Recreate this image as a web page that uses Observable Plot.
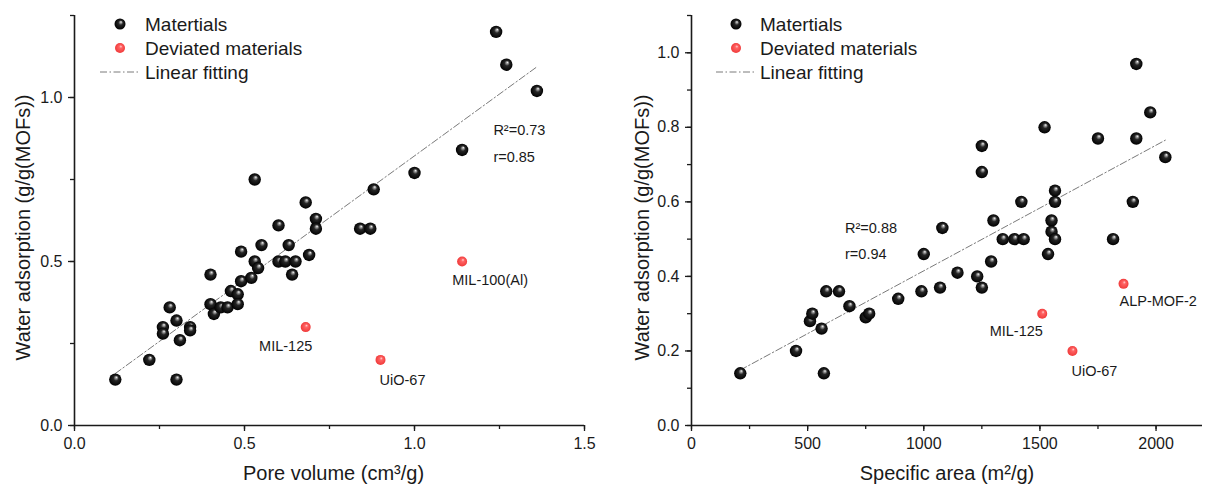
<!DOCTYPE html>
<html>
<head>
<meta charset="utf-8">
<script src="https://cdn.jsdelivr.net/npm/d3@7"></script>
<script src="https://cdn.jsdelivr.net/npm/@observablehq/plot@0.6"></script>
<style>
  html, body { margin: 0; padding: 0; background: #fff; }
  #wrap { position: relative; width: 1207px; height: 492px; font-family: "Liberation Sans", Arial, sans-serif; }
  .panel { position: absolute; top: 0; }
  .legend { position: absolute; top: 0; left: 0; pointer-events: none; }
</style>
</head>
<body>
<!-- shaded sphere fills shared by both panels and the legends -->
<svg width="0" height="0" style="position:absolute">
  <defs>
    <radialGradient id="ballBlack" cx="50%" cy="50%" r="50%" fx="60%" fy="30%">
      <stop offset="0%" stop-color="#ffffff"/>
      <stop offset="14%" stop-color="#a8a8a8"/>
      <stop offset="42%" stop-color="#262626"/>
      <stop offset="100%" stop-color="#000000"/>
    </radialGradient>
    <radialGradient id="ballRed" cx="50%" cy="50%" r="50%" fx="60%" fy="32%">
      <stop offset="0%" stop-color="#ffd6d6"/>
      <stop offset="30%" stop-color="#ff6464"/>
      <stop offset="100%" stop-color="#f03a3a"/>
    </radialGradient>
  </defs>
</svg>
<div id="wrap"></div>
<script>
// ---- Pore volume panel ----
const poreVolume = [0.12, 0.22, 0.30, 0.26, 0.26, 0.28, 0.30, 0.31, 0.34, 0.34,
  0.40, 0.40, 0.41, 0.43, 0.45, 0.46, 0.48, 0.48, 0.49, 0.49,
  0.52, 0.53, 0.54, 0.55, 0.60, 0.60, 0.62, 0.63, 0.65, 0.64,
  0.68, 0.69, 0.71, 0.71, 0.84, 0.87, 0.53, 0.88, 1.00, 1.14,
  1.24, 1.27, 1.36];
const poreUptake = [0.14, 0.20, 0.14, 0.30, 0.28, 0.36, 0.32, 0.26, 0.30, 0.29,
  0.46, 0.37, 0.34, 0.36, 0.36, 0.41, 0.40, 0.37, 0.44, 0.53,
  0.45, 0.50, 0.48, 0.55, 0.61, 0.50, 0.50, 0.55, 0.50, 0.46,
  0.68, 0.52, 0.63, 0.60, 0.60, 0.60, 0.75, 0.72, 0.77, 0.84,
  1.20, 1.10, 1.02];
const poreDevNames = ["MIL-125", "UiO-67", "MIL-100(Al)"];
const poreDevVolume = [0.68, 0.90, 1.14];
const poreDevUptake = [0.30, 0.20, 0.50];
const poreFit = {slope: 0.754, intercept: 0.068, r2: "0.73", r: "0.85"};
const poreXTicks = [0, 0.5, 1.0, 1.5];
const poreXMinor = [0, 0.25, 0.5, 0.75, 1.0, 1.25, 1.5];
const poreYTicks = [0, 0.5, 1.0];
const poreYMinor = [0, 0.25, 0.5, 0.75, 1.0, 1.25];

// ---- Specific area panel ----
const areaValues = [210, 450, 570, 560, 510, 520, 580, 635, 680, 750,
  765, 890, 990, 1000, 1070, 1080, 1145, 1230, 1250, 1290,
  1300, 1340, 1390, 1430, 1535, 1550, 1550, 1565, 1815, 1420,
  1565, 1900, 1915, 1975, 1520, 1750, 1915, 1250, 2040, 1250,
  1565];
const areaUptake = [0.14, 0.20, 0.14, 0.26, 0.28, 0.30, 0.36, 0.36, 0.32, 0.29,
  0.30, 0.34, 0.36, 0.46, 0.37, 0.53, 0.41, 0.40, 0.37, 0.44,
  0.55, 0.50, 0.50, 0.50, 0.46, 0.55, 0.52, 0.50, 0.50, 0.60,
  0.60, 0.60, 0.97, 0.84, 0.80, 0.77, 0.77, 0.75, 0.72, 0.68,
  0.63];
const areaDevNames = ["MIL-125", "UiO-67", "ALP-MOF-2"];
const areaDevValues = [1510, 1640, 1860];
const areaDevUptake = [0.30, 0.20, 0.38];
const areaFit = {slope: 0.000337, intercept: 0.078, r2: "0.88", r: "0.94"};
const areaXTicks = [0, 500, 1000, 1500, 2000];
const areaXMinor = [0, 250, 500, 750, 1000, 1250, 1500, 1750, 2000];
const areaYTicks = [0, 0.2, 0.4, 0.6, 0.8, 1.0];
const areaYMinor = [0, 0.1, 0.2, 0.3, 0.4, 0.5, 0.6, 0.7, 0.8, 0.9, 1.0, 1.1];

const legendLabels = ["Matertials", "Deviated materials", "Linear fitting"];

const FONT = "Liberation Sans, Arial, sans-serif";
const INK = "#1a1a1a";

function panel(cfg) {
  const pts = cfg.xs.map((x, i) => ({x, y: cfg.ys[i]}));
  const dev = cfg.devNames.map((name, i) => ({name, x: cfg.devX[i], y: cfg.devY[i]}));
  const [x0, x1] = d3.extent(cfg.xs);
  const fitRows = [x0, x1].map(x => ({x, y: cfg.fit.intercept + cfg.fit.slope * x}));
  const axisStyle = {stroke: INK, strokeWidth: 1.3};
  const marks = [
    Plot.axisX(cfg.xMinor, {...axisStyle, tickSize: 4, tickFormat: () => "", label: null}),
    Plot.axisX(cfg.xTicks, {...axisStyle, tickSize: 6, tickPadding: 6, tickFormat: cfg.xFmt, fontSize: 16, fill: INK, label: null}),
    Plot.axisY(cfg.yMinor, {...axisStyle, tickSize: 4, tickFormat: () => "", label: null}),
    Plot.axisY(cfg.yTicks, {...axisStyle, tickSize: 6, tickPadding: 6, tickFormat: cfg.yFmt, fontSize: 16, fill: INK, label: null}),
    Plot.ruleY([cfg.yDomain[0]], {stroke: INK, strokeWidth: 1.6}),
    Plot.ruleX([cfg.xDomain[0]], {stroke: INK, strokeWidth: 1.6}),
    Plot.line(fitRows, {x: "x", y: "y", stroke: "#7a7a7a", strokeWidth: 1, strokeDasharray: "7,2.5,1.5,2.5"}),
    Plot.dot(pts, {x: "x", y: "y", r: 6.2, fill: "url(#ballBlack)"}),
    Plot.dot(dev, {x: "x", y: "y", r: 5, fill: "url(#ballRed)"}),
    Plot.text([`R\u00B2=${cfg.fit.r2}`], {x: cfg.note.x, y: cfg.note.y1, textAnchor: "start", fontSize: 14.5, fill: INK}),
    Plot.text([`r=${cfg.fit.r}`], {x: cfg.note.x, y: cfg.note.y2, textAnchor: "start", fontSize: 14.5, fill: INK}),
    Plot.text([cfg.xTitle], {frameAnchor: "bottom", textAnchor: "middle", lineAnchor: "middle",
      dx: cfg.xTitleDx, dy: 48, fontSize: 20, fill: INK}),
    Plot.text([cfg.yTitle], {frameAnchor: "left", textAnchor: "middle", lineAnchor: "middle",
      dx: cfg.yTitleDx, dy: 7, rotate: -90, fontSize: 20, fill: INK})
  ];
  dev.forEach((d, i) => {
    const lay = cfg.devLayout[i];
    marks.push(Plot.text([d], {x: "x", y: "y", text: "name", dx: lay.dx, dy: lay.dy,
      textAnchor: lay.anchor || "middle", fontSize: 14.5, fill: INK}));
  });
  return Plot.plot({
    width: cfg.width,
    height: 492,
    marginTop: 15,
    marginBottom: 67,
    marginLeft: cfg.marginLeft,
    marginRight: cfg.marginRight,
    style: {fontFamily: FONT, fontSize: "16px", color: INK, background: "transparent", overflow: "visible"},
    x: {domain: cfg.xDomain},
    y: {domain: cfg.yDomain},
    marks
  });
}

const wrap = d3.select("#wrap");

const left = panel({
  width: 604, marginLeft: 74, marginRight: 20,
  xDomain: [0, 1.5], yDomain: [0, 1.25],
  xTicks: poreXTicks, xMinor: poreXMinor, yTicks: poreYTicks, yMinor: poreYMinor,
  xFmt: d3.format(".1f"), yFmt: d3.format(".1f"),
  xs: poreVolume, ys: poreUptake,
  devNames: poreDevNames, devX: poreDevVolume, devY: poreDevUptake,
  devLayout: [{dx: -20, dy: 19}, {dx: 22, dy: 20}, {dx: 28, dy: 19}],
  fit: poreFit,
  note: {x: 1.232, y1: 0.899, y2: 0.817},
  xTitle: "Pore volume (cm\u00B3/g)", xTitleDx: 4,
  yTitle: "Water adsorption (g/g(MOFs))", yTitleDx: -51
});
left.classList.add("panel");
left.style.left = "0px";
wrap.node().appendChild(left);

const right = panel({
  width: 603, marginLeft: 87, marginRight: 5,
  xDomain: [0, 2200], yDomain: [0, 1.1],
  xTicks: areaXTicks, xMinor: areaXMinor, yTicks: areaYTicks, yMinor: areaYMinor,
  xFmt: d3.format("d"), yFmt: d3.format(".1f"),
  xs: areaValues, ys: areaUptake,
  devNames: areaDevNames, devX: areaDevValues, devY: areaDevUptake,
  devLayout: [{dx: -26, dy: 18}, {dx: 22, dy: 20}, {dx: -4, dy: 17, anchor: "start"}],
  fit: areaFit,
  note: {x: 661, y1: 0.529, y2: 0.458},
  xTitle: "Specific area (m\u00B2/g)", xTitleDx: 0,
  yTitle: "Water adsorption (g/g(MOFs))", yTitleDx: -49
});
right.classList.add("panel");
right.style.left = "604px";
wrap.node().appendChild(right);

// Legends drawn inside the top-left corner of each panel
const legendSvg = wrap.append("svg").attr("class", "legend").attr("width", 1207).attr("height", 100);
function drawLegend(ballX, textX, lineX1, lineX2) {
  const rowsY = [24, 48, 72];
  const g = legendSvg.append("g").attr("font-family", FONT).attr("font-size", 19).attr("fill", INK);
  g.append("circle").attr("cx", ballX).attr("cy", rowsY[0]).attr("r", 5.5).attr("fill", "url(#ballBlack)");
  g.append("circle").attr("cx", ballX).attr("cy", rowsY[1]).attr("r", 5).attr("fill", "url(#ballRed)");
  g.append("line").attr("x1", lineX1).attr("x2", lineX2).attr("y1", rowsY[2]).attr("y2", rowsY[2])
    .attr("stroke", "#7a7a7a").attr("stroke-width", 1).attr("stroke-dasharray", "7,2.5,1.5,2.5");
  legendLabels.forEach((t, i) => {
    g.append("text").attr("x", textX).attr("y", rowsY[i]).attr("dy", "0.36em").text(t);
  });
}
drawLegend(120, 145, 100, 139.5);
drawLegend(736, 760, 716, 755);
</script>
</body>
</html>
